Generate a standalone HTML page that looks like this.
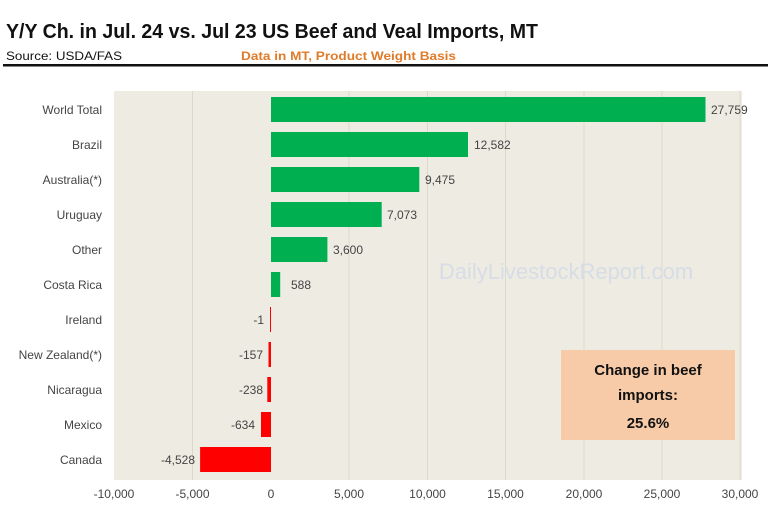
<!DOCTYPE html>
<html><head><meta charset="utf-8"><style>
body{margin:0;background:#fff;width:768px;height:515px;overflow:hidden;font-family:"Liberation Sans",sans-serif}
</style></head><body>
<svg width="768" height="515" xmlns="http://www.w3.org/2000/svg" font-family="Liberation Sans, sans-serif">
<text x="6" y="38" font-size="20" font-weight="bold" fill="#111" textLength="532" lengthAdjust="spacingAndGlyphs">Y/Y Ch. in Jul. 24 vs. Jul 23 US Beef and Veal Imports, MT</text>
<text x="6" y="60" font-size="12" fill="#111" textLength="116" lengthAdjust="spacingAndGlyphs">Source: USDA/FAS</text>
<text x="241" y="60" font-size="12" font-weight="bold" fill="#e07b2a" textLength="215" lengthAdjust="spacingAndGlyphs">Data in MT, Product Weight Basis</text>
<rect x="3" y="64" width="765" height="2.5" fill="#111"/>
<rect x="114" y="91" width="628" height="389" fill="#eeebe2"/>
<g stroke="#dcd8cc" stroke-width="1">
<line x1="192.5" y1="91" x2="192.5" y2="480"/><line x1="349" y1="91" x2="349" y2="480"/><line x1="427.5" y1="91" x2="427.5" y2="480"/><line x1="505.5" y1="91" x2="505.5" y2="480"/><line x1="584" y1="91" x2="584" y2="480"/><line x1="662" y1="91" x2="662" y2="480"/><line x1="740" y1="91" x2="740" y2="480"/>
</g>
<text x="566" y="279" font-size="22" fill="#d6dde6" text-anchor="middle">DailyLivestockReport.com</text>
<g fill="#00b050">
<rect x="271" y="97" width="434.5" height="25"/>
<rect x="271" y="132" width="197" height="25"/>
<rect x="271" y="167" width="148.3" height="25"/>
<rect x="271" y="202" width="110.7" height="25"/>
<rect x="271" y="237" width="56.4" height="25"/>
<rect x="271" y="272" width="9.2" height="25"/>
</g>
<g fill="#ff0000">
<rect x="270" y="307" width="1" height="25"/>
<rect x="268.5" y="342" width="2.5" height="25"/>
<rect x="267.3" y="377" width="3.7" height="25"/>
<rect x="261" y="412" width="10" height="25"/>
<rect x="200.1" y="447" width="70.9" height="25"/>
</g>
<g font-size="12" fill="#444" text-anchor="end">
<text x="102" y="114">World Total</text><text x="102" y="149">Brazil</text><text x="102" y="184">Australia(*)</text><text x="102" y="219">Uruguay</text><text x="102" y="254">Other</text><text x="102" y="289">Costa Rica</text><text x="102" y="324">Ireland</text><text x="102" y="359">New Zealand(*)</text><text x="102" y="394">Nicaragua</text><text x="102" y="429">Mexico</text><text x="102" y="464">Canada</text>
</g>
<g font-size="12" fill="#444">
<text x="711" y="114">27,759</text><text x="474" y="149">12,582</text><text x="425" y="184">9,475</text><text x="387" y="219">7,073</text><text x="333" y="254">3,600</text><text x="291" y="289">588</text>
</g>
<g font-size="12" fill="#444" text-anchor="end">
<text x="264" y="324">-1</text><text x="263" y="359">-157</text><text x="263" y="394">-238</text><text x="255" y="429">-634</text><text x="195" y="464">-4,528</text>
</g>
<g font-size="12" fill="#444" text-anchor="middle">
<text x="114" y="498">-10,000</text><text x="192.5" y="498">-5,000</text><text x="271" y="498">0</text><text x="349" y="498">5,000</text><text x="427.5" y="498">10,000</text><text x="505.5" y="498">15,000</text><text x="584" y="498">20,000</text><text x="662" y="498">25,000</text><text x="740" y="498">30,000</text>
</g>
<rect x="561" y="350" width="174" height="90" fill="#f8cba8"/>
<g font-size="15" font-weight="bold" fill="#111" text-anchor="middle">
<text x="648" y="375">Change in beef</text><text x="648" y="400">imports:</text><text x="648" y="428">25.6%</text>
</g>
</svg>
</body></html>
